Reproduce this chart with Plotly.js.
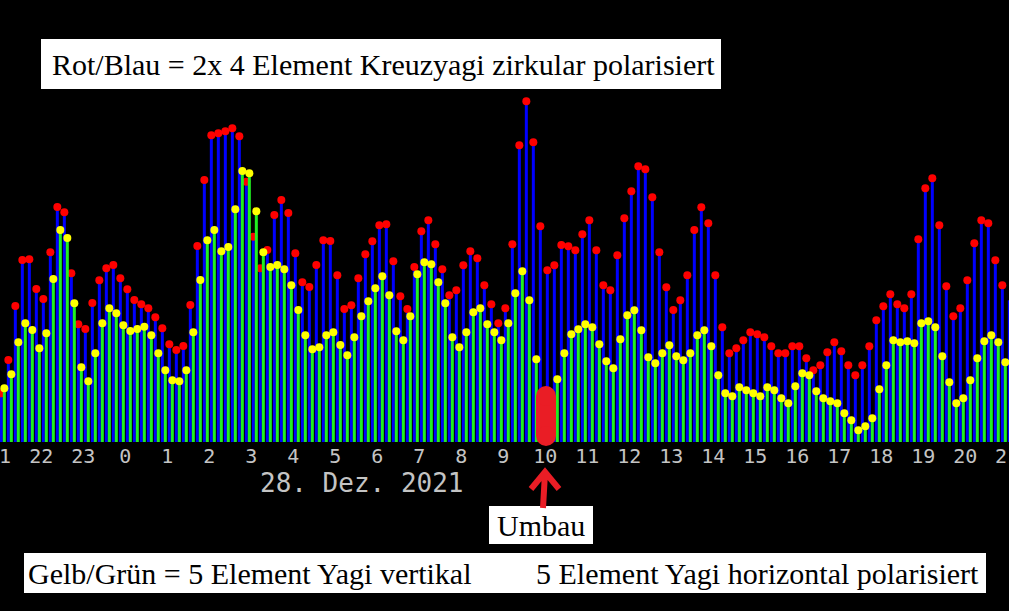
<!DOCTYPE html>
<html>
<head>
<meta charset="utf-8">
<script src="https://cdn.plot.ly/plotly-3.0.1.min.js"></script>
<style>html,body{margin:0;padding:0;background:#000;}#chart{width:1009px;height:611px;}</style>
</head>
<body>
<div id="chart"></div>
<script>
// Rot/Blau = 2x 4 Element Kreuzyagi (blue bars, red dots), one value per 10-minute slot
const blueValues = [
48.7, 82, 136, 182, 182.7, 153, 143, 189.7, 235, 229.7,
168.7, 117.7, 113, 139, 161.7, 173.7, 177, 163.7, 152.7, 142,
137.7, 133.7, 124.7, 113.7, 97.7, 92, 96, 137, 196, 262,
306.7, 308.7, 310.7, 313.7, 305.7, 260.3, 205.3, 173.7, 192, 227,
242, 229, 188.7, 159.7, 155, 177, 201.7, 201, 166.7, 133,
136.7, 163.7, 187.7, 200.7, 216.7, 217.7, 180.7, 145.7, 133, 175,
210.7, 221.7, 197.7, 172.7, 146.7, 151.7, 176.7, 190.7, 183.7, 156.7,
137.7, 118.7, 133.7, 197.7, 296.7, 340.7, 299.7, 215.7, 171.7, 176.7,
197, 195.7, 191.7, 207.7, 221.7, 191.7, 156.7, 151.7, 186.7, 223.7,
250.7, 275.7, 272.7, 244.7, 189.7, 154.7, 132, 141.7, 166.7, 212,
234.7, 218.7, 166.7, 114.7, 88.7, 93.7, 101.7, 109.7, 107.7, 104.7,
95.7, 88.7, 88.7, 95.7, 95.7, 83.7, 71.7, 76.7, 89.7, 99.7,
90.7, 76.7, 66.7, 76.7, 95.7, 121.7, 135.7, 147.7, 137.7, 133.7,
147.7, 202.7, 253.7, 263.7, 216.7, 155.7, 125.7, 133.7, 161.7, 198.7,
221.7, 218.7, 181.7, 156.7, 141.7
];
// Gelb/Grün = 5 Element Yagi (green bars, yellow dots)
const greenValues = [
53.7, 67.7, 99.7, 118.7, 112, 93.7, 108.7, 163, 212, 204,
138.7, 74.7, 60.7, 88.7, 118.7, 133.7, 128.7, 116.7, 111, 113,
115.3, 106.7, 88.7, 71.7, 61.7, 60.7, 71.7, 109.7, 162, 201.7,
212, 190.7, 195, 232.7, 271, 268.7, 230.7, 189.7, 175, 177,
172.7, 156.7, 132, 106.7, 92.7, 94.7, 106.7, 109.7, 97, 86.7,
104.7, 125.7, 140.7, 153.7, 165.7, 146.7, 110.7, 101.7, 125.7, 167.7,
179.7, 177.7, 159.7, 138.7, 104.7, 94.7, 109.7, 129.7, 133.7, 117.7,
109.7, 101.7, 118.7, 148.7, 170.7, 141.7, 82.7, 40, 40, 62.7,
88.7, 107.7, 112.7, 117.7, 114.7, 97.7, 80.7, 73.7, 102.7, 126.7,
131.7, 111.7, 84.7, 78.7, 88.7, 96.7, 85.7, 81.7, 88.7, 106.7,
111.7, 95.7, 66.7, 48.7, 45.7, 54.7, 51.7, 48.7, 45.7, 54.7,
51.7, 43.7, 38.7, 55.7, 68.7, 66.7, 50.7, 43.7, 40.7, 38.7,
28.7, 21.7, 11.7, 15.7, 23.7, 52.7, 76.7, 101.7, 99.7, 100.7,
98.7, 118.7, 120.7, 114.7, 85.7, 59.7, 38.7, 43.7, 61.7, 83.7,
100.7, 106.7, 99.7, 79.7, 65
];
// hour tick labels (27.12. 21:00 ... 28.12. 21:00), one per 6 slots
const hourLabels = ['21','22','23','0','1','2','3','4','5','6','7','8','9','10','11','12','13','14','15','16','17','18','19','20','21'];
const dateLabel = '28. Dez. 2021';
const noteTop = 'Rot/Blau = 2x 4 Element Kreuzyagi zirkular polarisiert';
const noteLeft = 'Gelb/Grün = 5 Element Yagi vertikal';
const noteRight = '5 Element Yagi horizontal polarisiert';
const noteRebuild = 'Umbau';

const W = 1009, BASE = 442;
const px = x => x / W;
const py = y => (BASE - y) / BASE;

const idx = blueValues.map((_, i) => i);
const off = 1.5 / 7, bw = 3 / 7;
const xBlue = idx.map(i => i - off);
const xGreen = idx.map(i => i + off);
const tickVals = hourLabels.map((_, j) => -0.5 + 6 * j);
const XR = [-0.405, 143.74];
const YR = [0, 442];
// pixel position of a slot index (for labels clipped at the page edge)
const slotPx = k => (k - XR[0]) / (XR[1] - XR[0]) * W;

const data = [
  {type:'bar', x:xBlue, y:blueValues, width:bw, marker:{color:'#0000ff', line:{width:0}}, xaxis:'x', yaxis:'y', hoverinfo:'none'},
  {type:'scatter', mode:'markers', x:xBlue, y:blueValues, marker:{color:'#ff0000', size:8, line:{width:0}}, xaxis:'x', yaxis:'y', hoverinfo:'none', cliponaxis:false},
  {type:'bar', x:xGreen, y:greenValues, width:bw, marker:{color:'#20f020', line:{width:0}}, xaxis:'x2', yaxis:'y2', hoverinfo:'none'},
  {type:'scatter', mode:'markers', x:xGreen, y:greenValues, marker:{color:'#ffff00', size:8, line:{width:0}}, xaxis:'x2', yaxis:'y2', hoverinfo:'none', cliponaxis:false}
];

const red = '#ea1d25';
const shapes = [
  {type:'rect', xref:'paper', yref:'paper', x0:px(41), x1:px(721), y0:py(39), y1:py(89), fillcolor:'#ffffff', line:{width:0}},
  {type:'rect', xref:'paper', yref:'paper', x0:px(489), x1:px(593), y0:py(506), y1:py(544), fillcolor:'#ffffff', line:{width:0}},
  {type:'rect', xref:'paper', yref:'paper', x0:px(24), x1:px(986), y0:py(553), y1:py(593), fillcolor:'#ffffff', line:{width:0}},
  {type:'rect', xref:'paper', yref:'paper', x0:px(536), x1:px(556), y0:py(396), y1:py(436), fillcolor:red, line:{width:0}},
  {type:'circle', xref:'paper', yref:'paper', x0:px(536), x1:px(556), y0:py(386), y1:py(406), fillcolor:red, line:{width:0}},
  {type:'circle', xref:'paper', yref:'paper', x0:px(536), x1:px(556), y0:py(426), y1:py(446), fillcolor:red, line:{width:0}},
  {type:'path', xref:'paper', yref:'paper',
   path:`M ${px(543)} ${py(508)} L ${px(545)} ${py(473)} M ${px(531)} ${py(489)} L ${px(545)} ${py(472)} L ${px(559)} ${py(489)}`,
   line:{color:red, width:6}}
];

const serif = {family:'Liberation Serif, Times New Roman, serif', size:30, color:'#000000'};
const mono = {family:'DejaVu Sans Mono, monospace', size:20, color:'#c4c4c4'};
const last = hourLabels.length - 1;
const annotations = [
  {xref:'paper', yref:'paper', x:px(383.5), y:py(64), text:noteTop, showarrow:false, font:serif, xanchor:'center', yanchor:'middle'},
  {xref:'paper', yref:'paper', x:px(541), y:py(525), text:noteRebuild, showarrow:false, font:serif, xanchor:'center', yanchor:'middle'},
  {xref:'paper', yref:'paper', x:px(250), y:py(573), text:noteLeft, showarrow:false, font:serif, xanchor:'center', yanchor:'middle'},
  {xref:'paper', yref:'paper', x:px(757), y:py(573), text:noteRight, showarrow:false, font:serif, xanchor:'center', yanchor:'middle'},
  {xref:'paper', yref:'paper', x:px(362), y:py(483), text:dateLabel, showarrow:false, font:{family:mono.family, size:26, color:mono.color}, xanchor:'center', yanchor:'middle'},
  {xref:'paper', yref:'paper', x:px(slotPx(tickVals[0])), y:py(456), text:hourLabels[0], showarrow:false, font:mono, xanchor:'center', yanchor:'middle'},
  {xref:'paper', yref:'paper', x:px(slotPx(tickVals[last])), y:py(456), text:hourLabels[last], showarrow:false, font:mono, xanchor:'center', yanchor:'middle'}
];

const layout = {
  width:1009, height:611,
  margin:{l:0, r:0, t:0, b:169, pad:0},
  paper_bgcolor:'#000000', plot_bgcolor:'#000000',
  showlegend:false, barmode:'overlay',
  xaxis:{range:XR, tickvals:tickVals.slice(1, last), ticktext:hourLabels.slice(1, last), tickfont:mono, ticks:'', showgrid:false, zeroline:false, showline:false, fixedrange:true},
  yaxis:{range:YR, visible:false, showgrid:false, zeroline:false, fixedrange:true},
  xaxis2:{range:XR, overlaying:'x', visible:false, showgrid:false, zeroline:false},
  yaxis2:{range:YR, overlaying:'y', visible:false, showgrid:false, zeroline:false},
  shapes:shapes, annotations:annotations
};

Plotly.newPlot('chart', data, layout, {staticPlot:true, displayModeBar:false});
</script>
</body>
</html>
